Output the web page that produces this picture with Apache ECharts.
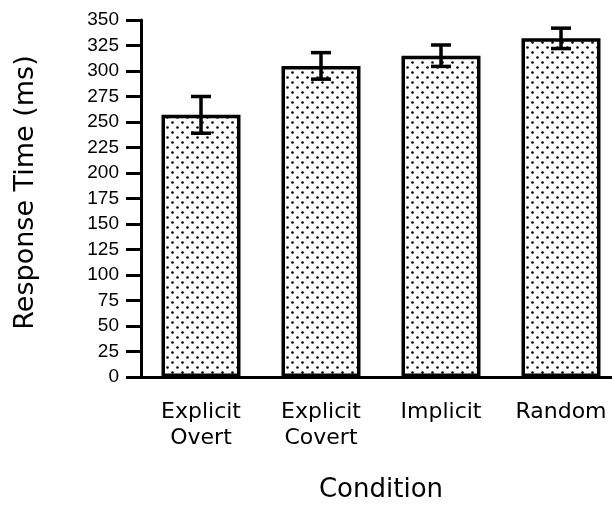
<!DOCTYPE html>
<html><head><meta charset="utf-8">
<script src="https://cdn.jsdelivr.net/npm/echarts@6/dist/echarts.min.js"></script>
<style>html,body{margin:0;padding:0;background:#fff}#c{width:612px;height:506px}</style>
</head><body><div id="c"></div>
<script>
const categories = ['Explicit\nOvert', 'Explicit\nCovert', 'Implicit', 'Random'];
const meanRT = [257, 305, 315, 332];
const errRT = [18, 13, 10.5, 10];
const yTicks = [0, 25, 50, 75, 100, 125, 150, 175, 200, 225, 250, 275, 300, 325, 350];

// dotted fill pattern
const pc = document.createElement('canvas');
pc.width = 10; pc.height = 10;
const g = pc.getContext('2d');
g.fillStyle = '#fff'; g.fillRect(0, 0, 10, 10);
g.fillStyle = '#000';
[[2.5, 2.5], [7.5, 7.5]].forEach(p => { g.beginPath(); g.arc(p[0], p[1], 1.3, 0, Math.PI * 2); g.fill(); });

const chart = echarts.init(document.getElementById('c'));
const tickFont = 'Liberation Sans, Arial, sans-serif';
const labFont = 'DejaVu Sans, sans-serif';
chart.setOption({
  animation: false,
  grid: { left: 141, right: -9, top: 20, bottom: 129, outerBoundsMode: 'none' },
  xAxis: {
    type: 'category', data: categories,
    name: 'Condition', nameLocation: 'middle', nameGap: 100,
    nameTextStyle: { fontSize: 26, color: '#000', fontFamily: labFont },
    axisLine: { lineStyle: { color: '#000', width: 3 } },
    axisTick: { alignWithLabel: true, length: 14, lineStyle: { color: '#000', width: 3 } },
    axisLabel: { fontSize: 22, color: '#000', fontFamily: labFont, margin: 22, lineHeight: 26 }
  },
  yAxis: {
    type: 'value', min: 0, max: 350, interval: 25,
    name: 'Response Time (ms)', nameLocation: 'middle', nameGap: 102,
    nameTextStyle: { fontSize: 27, color: '#000', fontFamily: labFont, padding: [0, 0, 0, 12] },
    axisLine: { show: true, lineStyle: { color: '#000', width: 3 } },
    axisTick: { show: true, length: 15, lineStyle: { color: '#000', width: 3 } },
    splitLine: { show: false },
    axisLabel: { fontSize: 19, color: '#000', fontFamily: tickFont, margin: 22,
      formatter: v => yTicks.includes(v) ? String(v) : '' }
  },
  series: [
    {
      type: 'bar', data: meanRT, barWidth: 79,
      itemStyle: { color: { image: pc, repeat: 'repeat' }, borderColor: '#000', borderWidth: 3.5 }
    },
    {
      type: 'custom',
      data: meanRT.map((m, i) => [i, m - errRT[i], m + errRT[i]]),
      renderItem: (params, api) => {
        const lo = api.coord([api.value(0), api.value(1)]);
        const hi = api.coord([api.value(0), api.value(2)]);
        const w = 10;
        const st = { stroke: '#000', lineWidth: 3.5 };
        return { type: 'group', children: [
          { type: 'line', shape: { x1: lo[0], y1: lo[1], x2: hi[0], y2: hi[1] }, style: st },
          { type: 'line', shape: { x1: lo[0] - w, y1: lo[1], x2: lo[0] + w, y2: lo[1] }, style: st },
          { type: 'line', shape: { x1: hi[0] - w, y1: hi[1], x2: hi[0] + w, y2: hi[1] }, style: st }
        ]};
      },
      z: 10
    }
  ]
});
</script></body></html>
